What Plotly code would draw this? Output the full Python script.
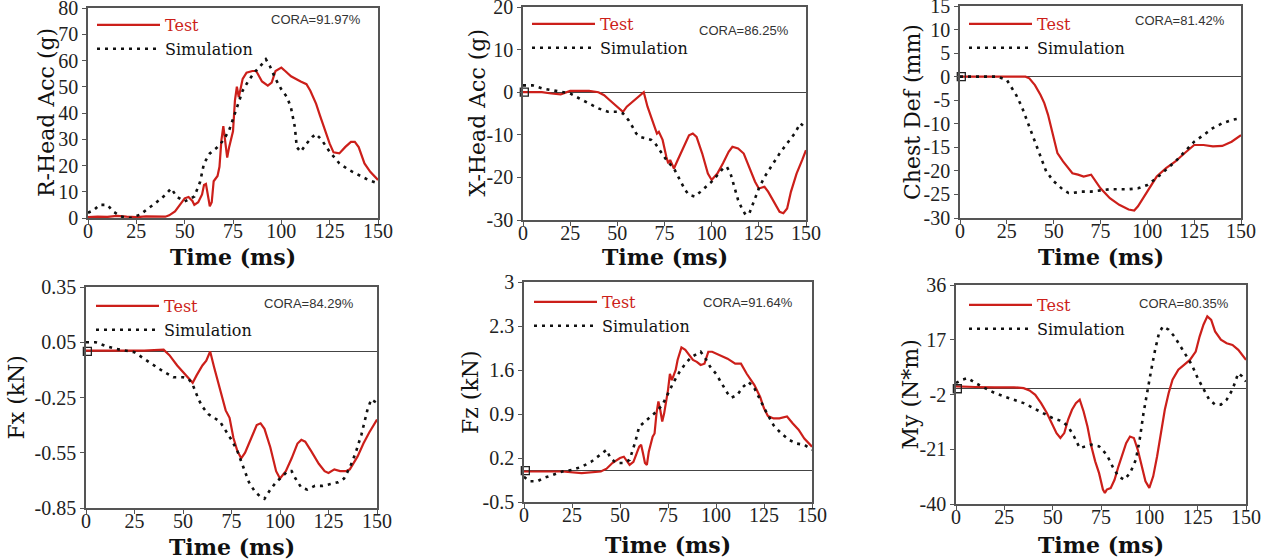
import plotly.graph_objects as go

W, H = 1269, 560

# ---------------- data ----------------
time_ticks = [0, 25, 50, 75, 100, 125, 150]

# Panel 1: R-Head Acc (g)
p1_test_t = [0, 5, 10, 15, 20, 25, 30, 35, 40, 42, 45, 48, 50, 52, 54, 55, 57, 59, 60, 61, 62, 63, 64, 65, 67, 68, 69, 70, 71, 72, 73, 75, 76, 77, 78, 79, 80, 82, 85, 87, 90, 93, 95, 97, 100, 102, 105, 110, 113, 115, 118, 120, 123, 125, 127, 130, 133, 136, 138, 140, 143, 146, 150]
p1_test_v = [0.3, 0.5, 0.4, 0.8, 0.5, 0.3, 0.6, 0.5, 0.5, 1.0, 2.5, 5.5, 7.5, 8.0, 6.5, 5.0, 6.0, 9.0, 12.6, 13.0, 9.0, 4.5, 6.0, 14.0, 16.0, 19.5, 29.6, 35.0, 29.0, 23.0, 27.0, 33.0, 44.7, 50.0, 46.0, 49.0, 53.0, 55.4, 56.0, 56.0, 52.0, 50.4, 51.6, 56.0, 57.3, 56.0, 54.0, 52.0, 51.0, 48.5, 43.5, 39.0, 32.7, 28.3, 25.0, 24.6, 27.0, 29.0, 29.0, 27.0, 20.8, 17.6, 14.5]
p1_sim_t = [0, 3, 6, 10, 13, 17, 22, 27, 30, 35, 40, 43, 46, 50, 55, 58, 60, 63, 67, 70, 73, 75, 78, 80, 83, 86, 90, 92, 94, 97, 100, 103, 105, 107, 108, 110, 113, 116, 118, 121, 125, 130, 135, 140, 145, 150]
p1_sim_v = [2.0, 3.0, 5.0, 5.0, 2.5, 0.6, 0.0, 1.3, 3.0, 5.7, 8.8, 11.3, 8.0, 6.3, 8.2, 13.8, 20.8, 24.6, 27.0, 29.6, 33.4, 37.8, 44.0, 48.5, 52.3, 55.4, 58.6, 60.5, 58.0, 53.0, 49.0, 46.0, 42.0, 34.6, 27.0, 25.2, 28.3, 30.9, 32.0, 29.6, 25.2, 20.8, 18.3, 16.4, 14.5, 13.2]

# Panel 2: X-Head Acc (g)
p2_test_t = [0, 5, 10, 15, 20, 25, 30, 35, 40, 43, 46, 50, 53, 55, 58, 61, 64, 66, 68, 70, 71, 72, 74, 76, 77, 78, 80, 82, 85, 88, 90, 92, 95, 98, 100, 103, 106, 109, 111, 114, 117, 120, 123, 125, 128, 130, 133, 136, 138, 140, 142, 145, 148, 150]
p2_test_v = [0.0, 0.0, 0.0, -0.3, -0.5, 0.3, 0.3, 0.3, 0.0, -0.7, -1.9, -3.4, -4.6, -3.4, -2.3, -1.1, 0.0, -3.4, -5.8, -8.5, -9.7, -9.3, -11.2, -15.2, -16.7, -15.9, -17.9, -15.9, -12.8, -10.1, -9.7, -10.5, -14.4, -19.1, -20.6, -19.1, -16.7, -14.0, -12.8, -13.2, -14.4, -17.9, -21.0, -22.6, -22.2, -23.4, -25.7, -28.1, -28.4, -27.3, -23.4, -19.1, -15.9, -13.6]
p2_sim_t = [0, 5, 10, 15, 20, 25, 30, 35, 40, 45, 50, 53, 56, 58, 60, 62, 65, 68, 70, 73, 76, 80, 83, 86, 88, 91, 94, 97, 100, 103, 106, 108, 110, 112, 114, 116, 118, 120, 122, 125, 128, 132, 136, 140, 144, 147, 150]
p2_sim_v = [1.6, 1.6, 0.9, 0.5, 0.0, -0.3, -1.5, -2.7, -3.8, -4.6, -4.6, -5.0, -6.6, -8.1, -9.7, -10.5, -10.9, -11.2, -12.0, -14.0, -15.9, -17.9, -20.6, -23.0, -24.1, -24.5, -23.4, -22.2, -21.0, -19.5, -17.9, -17.5, -19.1, -22.2, -25.3, -27.3, -28.8, -28.4, -26.1, -22.6, -19.9, -17.1, -14.4, -12.0, -9.7, -7.3, -8.5]

# Panel 3: Chest Def (mm)
p3_test_t = [0, 10, 20, 30, 35, 37, 40, 43, 45, 47, 49, 50, 52, 55, 58, 60, 63, 66, 70, 72, 75, 80, 85, 90, 93, 95, 100, 105, 110, 115, 120, 125, 130, 135, 140, 145, 150]
p3_test_v = [0.0, 0.0, 0.0, 0.0, 0.0, -0.35, -1.8, -3.9, -5.6, -8.1, -11.3, -13.4, -16.2, -18.0, -19.4, -20.5, -20.8, -21.2, -20.8, -21.9, -23.7, -25.8, -27.2, -28.2, -28.4, -27.5, -24.4, -21.2, -19.4, -18.0, -16.2, -14.5, -14.5, -14.8, -14.7, -13.8, -12.4]
p3_sim_t = [0, 10, 20, 25, 28, 30, 33, 35, 38, 40, 43, 46, 50, 55, 58, 60, 65, 70, 80, 90, 95, 100, 105, 110, 115, 120, 125, 130, 135, 140, 145, 150]
p3_sim_v = [0.0, 0.0, 0.0, -0.7, -2.5, -3.9, -6.4, -8.5, -12.0, -14.1, -17.3, -20.1, -22.2, -24.0, -24.7, -24.7, -24.4, -24.4, -23.9, -23.9, -23.7, -23.0, -21.5, -19.8, -18.0, -15.9, -13.8, -12.4, -10.9, -9.9, -9.2, -8.8]

# Panel 4: Fx (kN)
p4_test_t = [0, 10, 20, 30, 40, 43, 47, 50, 53, 55, 57, 60, 62, 64, 66, 68, 70, 72, 74, 76, 78, 80, 82, 85, 88, 90, 92, 95, 98, 100, 103, 106, 109, 111, 113, 116, 120, 123, 125, 128, 131, 134, 136, 140, 143, 146, 150]
p4_test_v = [0.005, 0.005, 0.005, 0.005, 0.01, -0.02, -0.076, -0.11, -0.15, -0.17, -0.13, -0.076, -0.05, 0.0, -0.085, -0.16, -0.25, -0.32, -0.36, -0.47, -0.54, -0.58, -0.55, -0.47, -0.40, -0.39, -0.42, -0.52, -0.65, -0.69, -0.65, -0.58, -0.50, -0.48, -0.49, -0.54, -0.61, -0.65, -0.66, -0.64, -0.65, -0.65, -0.64, -0.57, -0.50, -0.44, -0.37]
p4_sim_t = [0, 5, 10, 15, 20, 25, 30, 35, 40, 45, 50, 53, 55, 58, 60, 63, 66, 69, 72, 75, 78, 81, 84, 87, 90, 92, 95, 98, 101, 104, 106, 108, 111, 114, 118, 122, 126, 130, 133, 136, 139, 142, 145, 147, 150]
p4_sim_v = [0.05, 0.05, 0.03, 0.015, 0.005, -0.004, -0.04, -0.076, -0.11, -0.14, -0.14, -0.15, -0.18, -0.26, -0.30, -0.34, -0.36, -0.38, -0.43, -0.48, -0.54, -0.63, -0.71, -0.76, -0.79, -0.80, -0.75, -0.71, -0.68, -0.65, -0.65, -0.69, -0.74, -0.75, -0.73, -0.73, -0.72, -0.71, -0.69, -0.63, -0.55, -0.45, -0.32, -0.26, -0.28]

# Panel 5: Fz (kN)
p5_test_t = [0, 10, 20, 30, 35, 40, 43, 46, 50, 52, 55, 57, 60, 61, 62, 63, 64, 65, 67, 68, 69, 70, 71, 72, 73, 74, 75, 76, 77, 78, 79, 80, 82, 84, 86, 88, 90, 92, 94, 96, 98, 100, 103, 106, 110, 113, 116, 120, 123, 125, 127, 130, 133, 137, 140, 143, 146, 150]
p5_test_v = [-0.015, -0.015, -0.015, -0.04, -0.03, -0.015, 0.03, 0.12, 0.20, 0.22, 0.09, 0.14, 0.38, 0.41, 0.27, 0.12, 0.09, 0.30, 0.54, 0.59, 0.91, 1.10, 0.96, 0.78, 0.91, 1.07, 1.28, 1.54, 1.44, 1.52, 1.60, 1.76, 1.96, 1.92, 1.84, 1.76, 1.73, 1.68, 1.70, 1.89, 1.89, 1.86, 1.82, 1.78, 1.70, 1.70, 1.54, 1.36, 1.17, 0.99, 0.87, 0.83, 0.83, 0.86, 0.75, 0.65, 0.51, 0.38]
p5_sim_t = [0, 3, 7, 10, 15, 20, 25, 30, 35, 40, 43, 45, 48, 52, 55, 58, 60, 63, 66, 69, 72, 75, 78, 81, 84, 87, 90, 92, 94, 97, 100, 103, 106, 108, 111, 114, 117, 120, 123, 126, 130, 134, 138, 142, 146, 150]
p5_sim_v = [-0.10, -0.17, -0.17, -0.12, -0.07, -0.015, 0.01, 0.06, 0.14, 0.25, 0.33, 0.20, 0.12, 0.12, 0.17, 0.46, 0.70, 0.78, 0.86, 0.94, 1.04, 1.23, 1.41, 1.57, 1.70, 1.80, 1.86, 1.89, 1.81, 1.65, 1.54, 1.38, 1.23, 1.16, 1.20, 1.33, 1.41, 1.31, 1.12, 0.94, 0.72, 0.59, 0.49, 0.43, 0.41, 0.33]

# Panel 6: My (N*m)
p6_test_t = [0, 5, 10, 20, 30, 35, 38, 41, 44, 47, 50, 52, 54, 56, 58, 60, 62, 64, 66, 68, 70, 72, 74, 76, 77, 78, 80, 82, 84, 86, 88, 90, 92, 94, 96, 98, 100, 102, 104, 106, 108, 110, 112, 115, 118, 121, 124, 126, 128, 130, 132, 134, 137, 140, 143, 146, 150]
p6_test_v = [0.8, 0.8, 0.6, 0.5, 0.5, 0.2, -0.6, -2.1, -5.0, -8.4, -12.5, -15.4, -17.1, -15.4, -10.7, -7.3, -5.0, -3.8, -7.9, -13.1, -20.0, -25.2, -29.3, -35.0, -36.2, -35.0, -34.5, -31.6, -27.0, -22.9, -18.9, -16.6, -17.1, -21.1, -26.9, -32.1, -34.4, -30.4, -23.5, -15.4, -7.3, -1.5, 3.1, 6.6, 8.3, 10.0, 12.9, 18.1, 22.2, 25.1, 23.9, 19.9, 17.0, 15.8, 15.2, 13.5, 10.0]
p6_sim_t = [0, 3, 6, 10, 15, 20, 25, 30, 35, 40, 45, 50, 55, 58, 61, 64, 67, 70, 74, 78, 81, 84, 87, 90, 93, 95, 97, 99, 101, 103, 105, 107, 110, 113, 116, 119, 122, 125, 128, 131, 134, 137, 140, 143, 146, 148, 150]
p6_sim_v = [2.0, 3.1, 3.7, 2.0, 0.2, -1.5, -2.7, -3.8, -5.0, -6.7, -8.4, -10.2, -11.3, -13.1, -16.5, -20.6, -20.0, -19.4, -20.0, -22.9, -27.0, -30.4, -31.6, -29.3, -24.7, -17.7, -8.4, -0.3, 6.6, 13.5, 19.3, 21.6, 20.5, 18.1, 14.7, 11.2, 8.3, 3.7, -0.3, -3.8, -5.5, -5.5, -3.8, -0.3, 5.4, 4.3, 2.5]

# axis labels, ranges, ticks
y_titles = ["R-Head Acc (g)", "X-Head Acc (g)", "Chest Def (mm)", "Fx (kN)", "Fz (kN)", "My (N*m)"]
y_ranges = [[0, 80], [-30, 20], [-30, 15], [-0.85, 0.35], [-0.5, 3], [-40, 36]]
y_tickvals = [
    [0, 10, 20, 30, 40, 50, 60, 70, 80],
    [-30, -20, -10, 0, 10, 20],
    [-30, -25, -20, -15, -10, -5, 0, 5, 10, 15],
    [-0.85, -0.55, -0.25, 0.05, 0.35],
    [-0.5, 0.2, 0.9, 1.6, 2.3, 3],
    [-40, -21, -2, 17, 36],
]
y_ticktext = [
    ["0", "10", "20", "30", "40", "50", "60", "70", "80"],
    ["-30", "-20", "-10", "0", "10", "20"],
    ["-30", "-25", "-20", "-15", "-10", "-5", "0", "5", "10", "15"],
    ["-0.85", "-0.55", "-0.25", "0.05", "0.35"],
    ["-0.5", "0.2", "0.9", "1.6", "2.3", "3"],
    ["-40", "-21", "-2", "17", "36"],
]
cora_labels = ["CORA=91.97%", "CORA=86.25%", "CORA=81.42%", "CORA=84.29%", "CORA=91.64%", "CORA=80.35%"]
origin_t = [0.7]
origin_v = [0]
show_origin = [False, True, True, True, True, True]

tests = [(p1_test_t, p1_test_v), (p2_test_t, p2_test_v), (p3_test_t, p3_test_v),
         (p4_test_t, p4_test_v), (p5_test_t, p5_test_v), (p6_test_t, p6_test_v)]
sims = [(p1_sim_t, p1_sim_v), (p2_sim_t, p2_sim_v), (p3_sim_t, p3_sim_v),
        (p4_sim_t, p4_sim_v), (p5_sim_t, p5_sim_v), (p6_sim_t, p6_sim_v)]

# ---------------- layout (pixel boxes of plot areas) ----------------
boxes = [  # x0, x1, y0(top), y1(bottom)
    (88, 378, 8, 218), (523, 806, 7, 220), (960, 1241, 6, 218),
    (86, 377, 287, 508), (524, 812, 282, 502), (956, 1246, 285, 504),
]
legend_pos = [(92, 8), (527, 7), (964, 7), (91, 289), (529, 285), (964, 288)]
cora_pos = [(316, 20), (744, 30), (1180, 21), (309, 303), (748, 302), (1184, 303)]
ytitle_x = [47, 477, 913, 16, 470, 910]
xtitle_y = [257, 257, 257, 547, 545, 545]

RED = "#cc1f1a"
FRAME = "#555555"
TICKFONT = dict(family="Liberation Serif", size=20, color="#222222")
TITLEFONT = "DejaVu Serif"

fig = go.Figure()
layout = dict(
    width=W, height=H, margin=dict(l=0, r=0, t=0, b=0, autoexpand=False),
    paper_bgcolor="white", plot_bgcolor="white", showlegend=True,
)
annotations = []

for i in range(6):
    n = "" if i == 0 else str(i + 1)
    x0, x1, y0, y1 = boxes[i]
    xa, ya = "x" + n, "y" + n
    leg = "legend" + n
    fig.add_trace(go.Scatter(
        x=tests[i][0], y=tests[i][1], mode="lines", xaxis=xa, yaxis=ya,
        name="<span style='color:%s'>Test</span>" % RED,
        line=dict(color=RED, width=2.2), legend=leg))
    fig.add_trace(go.Scatter(
        x=sims[i][0], y=sims[i][1], mode="lines", xaxis=xa, yaxis=ya,
        name="Simulation", line=dict(color="#111111", width=2.6, dash="3px,5px"),
        legend=leg))
    if show_origin[i]:
        fig.add_trace(go.Scatter(
            x=origin_t, y=origin_v, mode="markers", xaxis=xa, yaxis=ya,
            marker=dict(symbol="square-open", size=8, color="#222222", line=dict(width=1.3)),
            showlegend=False, hoverinfo="skip", cliponaxis=False))

    layout["xaxis" + n] = dict(
        domain=[x0 / W, x1 / W], anchor=ya, range=[0, 150], automargin=False,
        tickvals=time_ticks, ticktext=[str(v) for v in time_ticks],
        ticks="outside", ticklen=4, tickcolor=FRAME, tickfont=TICKFONT,
        ticklabelstandoff=-10, ticklabeloverflow="allow",
        showline=True, linecolor=FRAME, linewidth=1.5, mirror=True,
        showgrid=False, zeroline=False,
    )
    layout["yaxis" + n] = dict(
        domain=[1 - y1 / H, 1 - y0 / H], anchor=xa, range=y_ranges[i], automargin=False,
        tickvals=y_tickvals[i], ticktext=y_ticktext[i], ticklabeloverflow="allow",
        ticks="outside", ticklen=4, tickcolor=FRAME, tickfont=TICKFONT,
        showline=True, linecolor=FRAME, linewidth=1.5, mirror=True,
        showgrid=False, zeroline=True, zerolinecolor="#444444", zerolinewidth=1,
    )
    lx, ly = legend_pos[i]
    layout[leg] = dict(
        x=lx / W, y=1 - ly / H, xanchor="left", yanchor="top",
        bgcolor="rgba(0,0,0,0)", borderwidth=0, itemwidth=63,
        font=dict(family=TITLEFONT, size=16, color="#111111"),
        tracegroupgap=0,
    )
    cx, cy = cora_pos[i]
    annotations.append(dict(
        text=cora_labels[i], x=cx / W, y=1 - cy / H, xref="paper", yref="paper",
        showarrow=False, xanchor="center", yanchor="middle",
        font=dict(family="Liberation Sans", size=13, color="#333333")))
    annotations.append(dict(
        text=y_titles[i], x=ytitle_x[i] / W, y=1 - ((y0 + y1) / 2) / H,
        xref="paper", yref="paper", showarrow=False, textangle=-90,
        xanchor="center", yanchor="middle",
        font=dict(family=TITLEFONT, size=22, color="#111111")))
    annotations.append(dict(
        text="<b>Time (ms)</b>", x=((x0 + x1) / 2) / W, y=1 - xtitle_y[i] / H,
        xref="paper", yref="paper", showarrow=False,
        xanchor="center", yanchor="middle",
        font=dict(family=TITLEFONT, size=22, color="#111111")))

layout["annotations"] = annotations
fig.update_layout(**layout)
fig.write_html("out.html", config={"displayModeBar": False},
               post_script="document.body.style.margin='0';")
